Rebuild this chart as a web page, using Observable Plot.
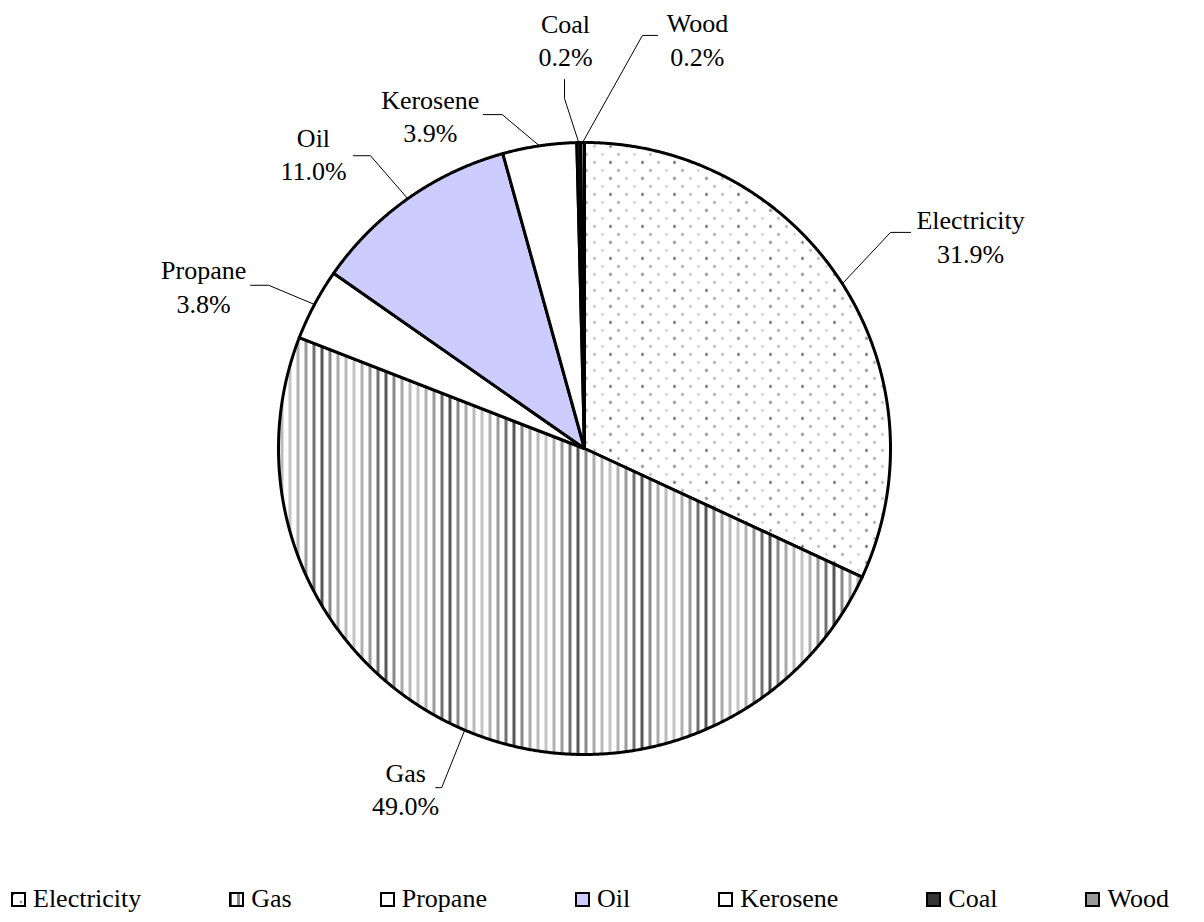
<!DOCTYPE html>
<html><head><meta charset="utf-8">
<script src="https://cdn.jsdelivr.net/npm/d3@7"></script>
<script src="https://cdn.jsdelivr.net/npm/@observablehq/plot@0.6"></script>
<style>
body{margin:0;background:#fff;}
#chart svg{display:block}
#legend{display:flex;gap:88px;padding-left:11px;height:42px;align-items:center;font-size:26px;color:#000;}
.item{display:flex;align-items:center;white-space:nowrap}
.item svg{margin-right:7px;display:block}
</style></head><body>
<div id="chart"></div><div id="legend"></div>
<script>
// ---- data ----
const categories = ["Electricity","Gas","Propane","Oil","Kerosene","Coal","Wood"];
const shares = [31.9, 49.0, 3.8, 11.0, 3.9, 0.2, 0.2];
const shareLabels = ["31.9%","49.0%","3.8%","11.0%","3.9%","0.2%","0.2%"];

// ---- styles ----
const FONT = "'Liberation Serif', Tinos, 'Times New Roman', serif";
const sliceFill = {
  Electricity: "url(#pat-elec)", Gas: "url(#pat-gas)", Propane: "#ffffff",
  Oil: "#ccccff", Kerosene: "#ffffff", Coal: "#333333", Wood: "#999999"
};
// label placement: polar position of label centre (deg clockwise from 12 o'clock, radius in pie radii)
// and leader connection/elbow offsets from label centre in px
const labelLayout = {
  Electricity: {ang: 61.1, rad: 1.441, conn: [-60, -3], elbow: [-80, -3]},
  Gas:         {ang: 207.8, rad: 1.253, conn: [30, 0],  elbow: [36, 0]},
  Propane:     {ang: 293.2, rad: 1.354, conn: [47, 0],  elbow: [65, 0]},
  Oil:         {ang: 317.5, rad: 1.311, conn: [40, 3],  elbow: [57, 3]},
  Kerosene:    {ang: 335.2, rad: 1.202, conn: [53, 0],  elbow: [72, 0]},
  Coal:        {ang: 357.35, rad: 1.341, conn: [-1, 41], elbow: [-1, 60]},
  Wood:        {ang: 15.4, rad: 1.390, conn: [-40, -3], elbow: [-55, -3]}
};

const W = 1204, H = 878, CX = 584, CY = 448, R = 306;
const total = d3.sum(shares);

const slicePts = [];
const labelData = [];
const leaderPts = [];
let acc = 0;
categories.forEach((name, i) => {
  const a0 = acc / total * 2 * Math.PI;
  acc += shares[i];
  const a1 = acc / total * 2 * Math.PI;
  slicePts.push({name, fill: sliceFill[name], x: 0, y: 0});
  const n = Math.max(2, Math.ceil((a1 - a0) / 0.004));
  for (let k = 0; k <= n; k++) {
    const a = a0 + (a1 - a0) * k / n;
    slicePts.push({name, fill: sliceFill[name], x: Math.sin(a), y: Math.cos(a)});
  }
  const am = (a0 + a1) / 2;
  const L = labelLayout[name];
  const la = L.ang * Math.PI / 180;
  const lx = L.rad * Math.sin(la), ly = L.rad * Math.cos(la);
  labelData.push({name, x: lx, y: ly, text: name + "\n" + shareLabels[i]});
  leaderPts.push({name, x: lx + L.conn[0] / R, y: ly - L.conn[1] / R});
  leaderPts.push({name, x: lx + L.elbow[0] / R, y: ly - L.elbow[1] / R});
  leaderPts.push({name, x: Math.sin(am), y: Math.cos(am)});
});

const chart = Plot.plot({
  width: W, height: H,
  margin: 0,
  x: {domain: [-CX / R, (W - CX) / R], axis: null},
  y: {domain: [-(H - CY) / R, CY / R], axis: null},
  color: {type: "identity"},
  style: {background: "#fff"},
  marks: [
    Plot.line(slicePts, {x: "x", y: "y", z: "name", fill: "fill", stroke: "#000",
      strokeWidth: 3, curve: "linear-closed", strokeLinejoin: "round"}),
    Plot.line(leaderPts, {x: "x", y: "y", z: "name", stroke: "#000", strokeWidth: 1}),
    Plot.text(labelData, {x: "x", y: "y", text: "text", fontSize: 26, lineHeight: 1.3,
      fill: "#000"})
  ]
});
document.getElementById("chart").appendChild(chart);
d3.select(chart).selectAll("text").style("font-family", FONT, "important");

// patterns
const defs = d3.select(chart).insert("defs", ":first-child");
const pe = defs.append("pattern").attr("id", "pat-elec").attr("patternUnits", "userSpaceOnUse")
  .attr("width", 32).attr("height", 32);
pe.append("rect").attr("width", 32).attr("height", 32).attr("fill", "#fff");
const dotGrays = ["#555","#aaa","#999","#ccc","#777","#bbb","#aaa","#ccc"];
let di = 0;
for (let r = 0; r < 4; r++) for (let c = 0; c < 2; c++) {
  pe.append("circle").attr("cx", c * 16 + (r % 2 ? 8 : 0) + 2).attr("cy", r * 8 + 2)
    .attr("r", 1.4).attr("fill", dotGrays[di++]);
}
const pg = defs.append("pattern").attr("id", "pat-gas").attr("patternUnits", "userSpaceOnUse")
  .attr("width", 64).attr("height", 8);
pg.append("rect").attr("width", 64).attr("height", 8).attr("fill", "#fff");
const stripeGrays = ["#555","#888","#aaa","#bbb","#c4c4c4","#b0b0b0","#999","#707070"];
stripeGrays.forEach((g, k) => pg.append("rect").attr("x", k * 8).attr("width", 3).attr("height", 8).attr("fill", g));

// legend
const legend = d3.select("#legend");
categories.forEach(name => {
  const it = legend.append("div").attr("class", "item");
  const s = it.append("svg").attr("width", 15).attr("height", 15);
  s.append("rect").attr("x", 1).attr("y", 1).attr("width", 13).attr("height", 13)
    .attr("fill", sliceFill[name]).attr("stroke", "#000").attr("stroke-width", 2);
  it.append("span").text(name).style("font-family", FONT, "important");
});
</script>
</body></html>
